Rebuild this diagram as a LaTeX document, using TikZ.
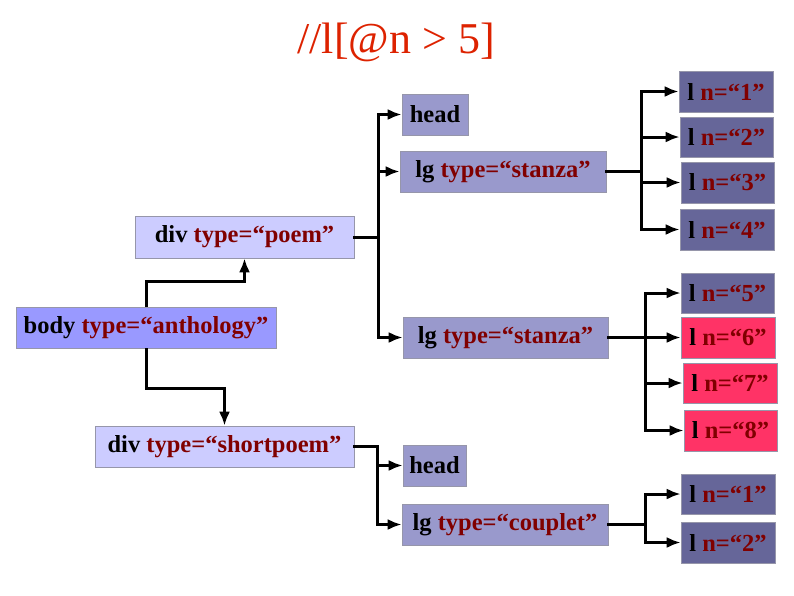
\documentclass[tikz,border=0pt]{standalone}
\usepackage{fontspec}
\setmainfont{Liberation Serif}
\usetikzlibrary{arrows.meta}
\definecolor{bodyfill}{RGB}{153,153,255}
\definecolor{divfill}{RGB}{204,204,255}
\definecolor{lgfill}{RGB}{153,153,204}
\definecolor{lfill}{RGB}{102,102,153}
\definecolor{redfill}{RGB}{255,51,102}
\definecolor{txtred}{RGB}{128,0,0}
\definecolor{titlered}{RGB}{221,34,0}
\definecolor{edgegray}{RGB}{150,150,170}
\tikzset{
  box/.style={draw=edgegray, line width=0.6pt, inner sep=0pt, font=\bfseries\fontsize{24.5}{28}\selectfont, text=black},
  conn/.style={line width=3pt, line cap=rect},
  arr/.style={line width=3pt, -{Latex[length=14pt,width=11pt]}},
}
\newcommand{\bx}[7]{%
  \node[box,fill=#6,minimum width={(#4-#2)*1pt},minimum height={(#5-#3)*1pt}] (#1) at ({(#2+#4)/2},{(#3+#5)/2}) {#7};}
\newcommand{\rd}[1]{\textcolor{txtred}{#1}}
\begin{document}
\begin{tikzpicture}[x=1pt,y=-1pt]
\useasboundingbox (0,0) rectangle (794,595);
\node[font=\fontsize{44}{50}\selectfont, text=titlered] (title) at (396,42) {//l[@n > 5]};
\bx{body}{16}{307}{276}{348}{bodyfill}{body \rd{type=“anthology”}}
\bx{dp}{135}{216}{354}{258}{divfill}{div \rd{type=“poem”}}
\bx{ds}{95}{426}{354}{467}{divfill}{div \rd{type=“shortpoem”}}
\bx{h1}{402}{94}{468}{135}{lgfill}{head}
\bx{lga}{400}{151}{606}{192}{lgfill}{lg \rd{type=“stanza”}}
\bx{lgb}{403}{317}{608}{358}{lgfill}{lg \rd{type=“stanza”}}
\bx{h2}{403}{445}{466}{486}{lgfill}{head}
\bx{lgc}{402}{504}{608}{545}{lgfill}{lg \rd{type=“couplet”}}
\bx{l1}{679}{71}{773}{112}{lfill}{l \rd{n=“1”}}
\bx{l2}{680}{117}{773}{157}{lfill}{l \rd{n=“2”}}
\bx{l3}{681}{162}{774}{203}{lfill}{l \rd{n=“3”}}
\bx{l4}{680}{209}{774}{250}{lfill}{l \rd{n=“4”}}
\bx{l5}{681}{273}{774}{313}{lfill}{l \rd{n=“5”}}
\bx{l6}{681}{317}{775}{358}{redfill}{l \rd{n=“6”}}
\bx{l7}{683}{363}{777}{403}{redfill}{l \rd{n=“7”}}
\bx{l8}{684}{410}{777}{451}{redfill}{l \rd{n=“8”}}
\bx{c1}{681}{474}{775}{514}{lfill}{l \rd{n=“1”}}
\bx{c2}{681}{522}{775}{563}{lfill}{l \rd{n=“2”}}
% body to divs
\draw[arr] (body.north) -- ++(0,-25) -| (dp.south);
\draw[arr] (body.south) -- ++(0,40) -| (ds.north);
% div poem
\draw[conn] (dp.east) -- ++(24,0) coordinate (t1);
\draw[conn] (t1 |- h1.west) -- (t1 |- lgb.west);
\foreach \n in {h1,lga,lgb} \draw[arr] (t1 |- \n.west) -- (\n.west);
% stanza 1
\draw[conn] (lga.east) -- ++(35,0) coordinate (t2);
\draw[conn] (t2 |- l1.west) -- (t2 |- l4.west);
\foreach \n in {l1,l2,l3,l4} \draw[arr] (t2 |- \n.west) -- (\n.west);
% stanza 2
\draw[conn] (lgb.east) -- ++(37,0) coordinate (t3);
\draw[conn] (t3 |- l5.west) -- (t3 |- l8.west);
\foreach \n in {l5,l6,l7,l8} \draw[arr] (t3 |- \n.west) -- (\n.west);
% short poem
\draw[conn] (ds.east) -- ++(23,0) coordinate (t4);
\draw[conn] (t4) -- (t4 |- lgc.west);
\foreach \n in {h2,lgc} \draw[arr] (t4 |- \n.west) -- (\n.west);
% couplet
\draw[conn] (lgc.east) -- ++(37,0) coordinate (t5);
\draw[conn] (t5 |- c1.west) -- (t5 |- c2.west);
\foreach \n in {c1,c2} \draw[arr] (t5 |- \n.west) -- (\n.west);
\end{tikzpicture}
\end{document}
